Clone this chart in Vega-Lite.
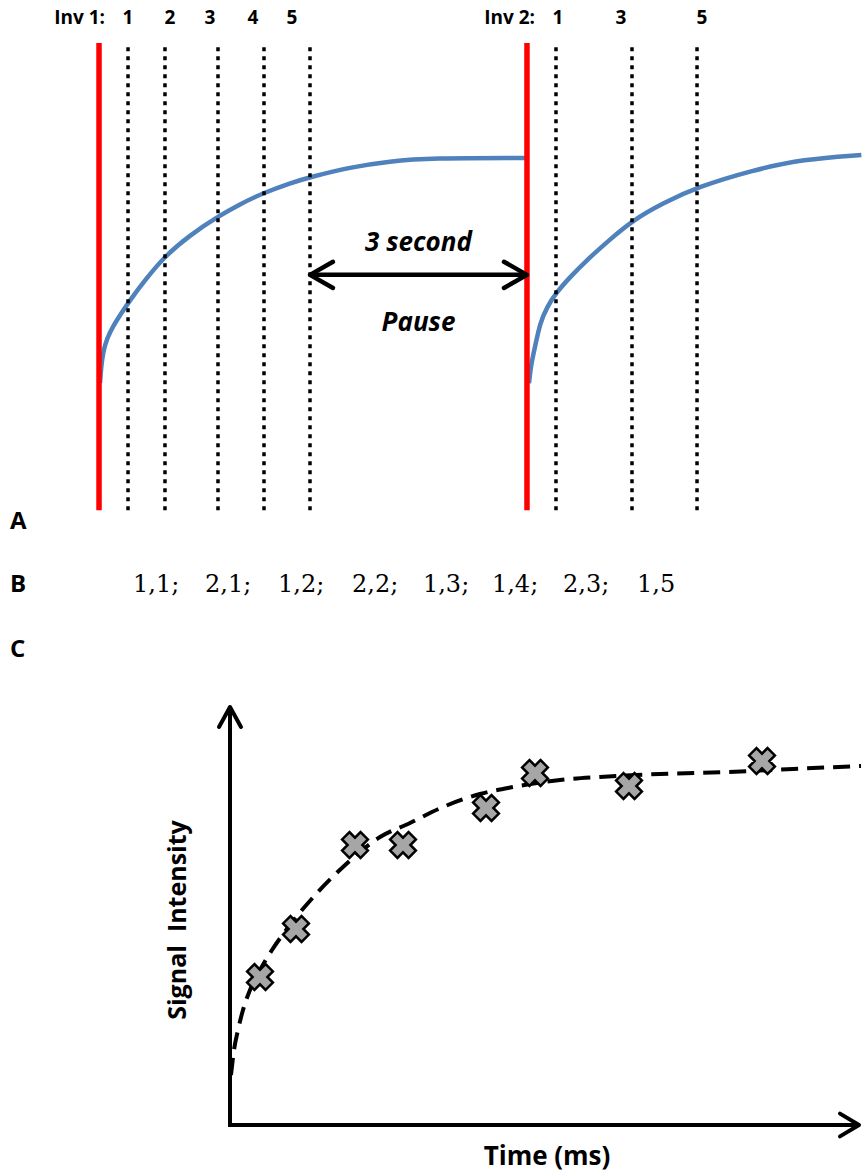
{
  "$schema": "https://vega.github.io/schema/vega-lite/v6.json",
  "padding": 0,
  "spacing": 0,
  "bounds": "flush",
  "background": "white",
  "config": {"view": {"stroke": null}, "font": "Open Sans"},
  "datasets": {
    "inversions": [
      {"inversion": "Inv 1", "t": 0},
      {"inversion": "Inv 2", "t": 5.917}
    ],
    "readouts": [
      {"inversion": 1, "readout": 1, "t": 0.401},
      {"inversion": 1, "readout": 2, "t": 0.912},
      {"inversion": 1, "readout": 3, "t": 1.645},
      {"inversion": 1, "readout": 4, "t": 2.281},
      {"inversion": 1, "readout": 5, "t": 2.917},
      {"inversion": 2, "readout": 1, "t": 6.318},
      {"inversion": 2, "readout": 3, "t": 7.369},
      {"inversion": 2, "readout": 5, "t": 8.268}
    ],
    "inversionLabels": [
      {"label": "Inv 1:", "t": 0.083},
      {"label": "Inv 2:", "t": 6.028}
    ],
    "readoutLabels": [
      {"label": "1", "t": 0.401},
      {"label": "2", "t": 0.982},
      {"label": "3", "t": 1.535},
      {"label": "4", "t": 2.129},
      {"label": "5", "t": 2.668},
      {"label": "1", "t": 6.346},
      {"label": "3", "t": 7.217},
      {"label": "5", "t": 8.337}
    ],
    "recovery": [
      {"inversion": 1, "t": 0.014, "signal": -0.014},
      {"inversion": 1, "t": 0.028, "signal": 0.054},
      {"inversion": 1, "t": 0.055, "signal": 0.126},
      {"inversion": 1, "t": 0.111, "signal": 0.189},
      {"inversion": 1, "t": 0.194, "signal": 0.243},
      {"inversion": 1, "t": 0.318, "signal": 0.306},
      {"inversion": 1, "t": 0.429, "signal": 0.36},
      {"inversion": 1, "t": 0.636, "signal": 0.45},
      {"inversion": 1, "t": 0.912, "signal": 0.559},
      {"inversion": 1, "t": 1.258, "signal": 0.653},
      {"inversion": 1, "t": 1.631, "signal": 0.734},
      {"inversion": 1, "t": 1.949, "signal": 0.793},
      {"inversion": 1, "t": 2.267, "signal": 0.842},
      {"inversion": 1, "t": 2.641, "signal": 0.887},
      {"inversion": 1, "t": 2.917, "signal": 0.914},
      {"inversion": 1, "t": 3.47, "signal": 0.959},
      {"inversion": 1, "t": 4.023, "signal": 0.986},
      {"inversion": 1, "t": 4.576, "signal": 1.0},
      {"inversion": 1, "t": 5.917, "signal": 1.0},
      {"inversion": 2, "t": 5.945, "signal": -0.014},
      {"inversion": 2, "t": 5.973, "signal": 0.07},
      {"inversion": 2, "t": 6.028, "signal": 0.149},
      {"inversion": 2, "t": 6.097, "signal": 0.257},
      {"inversion": 2, "t": 6.194, "signal": 0.329},
      {"inversion": 2, "t": 6.318, "signal": 0.392},
      {"inversion": 2, "t": 6.512, "signal": 0.464},
      {"inversion": 2, "t": 6.747, "signal": 0.541},
      {"inversion": 2, "t": 7.023, "signal": 0.622},
      {"inversion": 2, "t": 7.383, "signal": 0.721},
      {"inversion": 2, "t": 7.798, "signal": 0.797},
      {"inversion": 2, "t": 8.268, "signal": 0.869},
      {"inversion": 2, "t": 9.042, "signal": 0.946},
      {"inversion": 2, "t": 9.733, "signal": 0.995},
      {"inversion": 2, "t": 10.54, "signal": 1.014}
    ],
    "pause": [
      {"from": 2.917, "to": 5.917, "label": "3 second", "label2": "Pause"}
    ],
    "panelLetters": [
      {"letter": "A", "s": -0.64},
      {"letter": "B", "s": -0.923},
      {"letter": "C", "s": -1.216}
    ],
    "order": [
      {"pair": "1,1;", "t": 0.47},
      {"pair": "2,1;", "t": 1.466},
      {"pair": "1,2;", "t": 2.475},
      {"pair": "2,2;", "t": 3.498},
      {"pair": "1,3;", "t": 4.479},
      {"pair": "1,4;", "t": 5.433},
      {"pair": "2,3;", "t": 6.415},
      {"pair": "1,5", "t": 7.438}
    ],
    "measurements": [
      {"time": 150, "signal": 37},
      {"time": 330, "signal": 49},
      {"time": 625, "signal": 70},
      {"time": 865, "signal": 70},
      {"time": 1280, "signal": 79.25},
      {"time": 1525, "signal": 88},
      {"time": 1995, "signal": 84.75},
      {"time": 2660, "signal": 91}
    ],
    "fit": [
      {"time": 5, "signal": 12.5},
      {"time": 20, "signal": 18.75},
      {"time": 40, "signal": 23.75},
      {"time": 65, "signal": 28.75},
      {"time": 100, "signal": 33.75},
      {"time": 150, "signal": 38.75},
      {"time": 210, "signal": 43.75},
      {"time": 300, "signal": 50},
      {"time": 435, "signal": 58},
      {"time": 565, "signal": 64.5},
      {"time": 750, "signal": 72},
      {"time": 900, "signal": 75.5},
      {"time": 1065, "signal": 79.5},
      {"time": 1250, "signal": 82.75},
      {"time": 1415, "signal": 84.5},
      {"time": 1650, "signal": 86.25},
      {"time": 1850, "signal": 87},
      {"time": 2150, "signal": 87.75},
      {"time": 2485, "signal": 88.25},
      {"time": 2815, "signal": 89},
      {"time": 3155, "signal": 89.75}
    ]
  },
  "vconcat": [
    {
      "width": 862,
      "height": 702,
      "layer": [
        {
          "data": {"name": "recovery"},
          "mark": {"type": "line", "color": "#4f81bd", "strokeWidth": 4.5, "interpolate": "basis"},
          "encoding": {
            "x": {"field": "t", "type": "quantitative", "scale": {"domain": [-1.369, 10.549], "nice": false, "zero": false}, "axis": null},
            "y": {"field": "signal", "type": "quantitative", "scale": {"domain": [-1.45, 1.712], "nice": false, "zero": false}, "axis": null},
            "detail": {"field": "inversion"}
          }
        },
        {
          "data": {"name": "inversions"},
          "mark": {"type": "rule", "color": "#ff0000", "strokeWidth": 5.5},
          "encoding": {
            "x": {"field": "t", "type": "quantitative"},
            "y": {"datum": -0.586, "type": "quantitative"},
            "y2": {"datum": 1.518}
          }
        },
        {
          "data": {"name": "readouts"},
          "mark": {"type": "rule", "color": "black", "strokeWidth": 3.5, "strokeDash": [4, 5]},
          "encoding": {
            "x": {"field": "t", "type": "quantitative"},
            "y": {"datum": -0.586, "type": "quantitative"},
            "y2": {"datum": 1.518}
          }
        },
        {
          "data": {"name": "pause"},
          "mark": {"type": "rule", "color": "black", "strokeWidth": 4.5},
          "encoding": {
            "x": {"field": "from", "type": "quantitative"},
            "x2": {"field": "to"},
            "y": {"datum": 0.474, "type": "quantitative"}
          }
        },
        {
          "data": {"name": "pause"},
          "mark": {"type": "point", "shape": "M1,-0.57L0,0L1,0.57", "size": 2116, "filled": false, "stroke": "black", "strokeWidth": 4.5, "strokeCap": "round", "strokeJoin": "round", "opacity": 1},
          "encoding": {
            "x": {"field": "from", "type": "quantitative"},
            "y": {"datum": 0.474, "type": "quantitative"}
          }
        },
        {
          "data": {"name": "pause"},
          "mark": {"type": "point", "shape": "M-1,-0.57L0,0L-1,0.57", "size": 2116, "filled": false, "stroke": "black", "strokeWidth": 4.5, "strokeCap": "round", "strokeJoin": "round", "opacity": 1},
          "encoding": {
            "x": {"field": "to", "type": "quantitative"},
            "y": {"datum": 0.474, "type": "quantitative"}
          }
        },
        {
          "data": {"name": "pause"},
          "transform": [{"calculate": "(datum.from + datum.to) / 2", "as": "mid"}],
          "mark": {"type": "text", "fontSize": 26, "fontWeight": "bold", "fontStyle": "italic", "align": "center", "baseline": "middle", "color": "black"},
          "encoding": {
            "x": {"field": "mid", "type": "quantitative"},
            "y": {"datum": 0.617, "type": "quantitative"},
            "text": {"field": "label"}
          }
        },
        {
          "data": {"name": "pause"},
          "transform": [{"calculate": "(datum.from + datum.to) / 2", "as": "mid"}],
          "mark": {"type": "text", "fontSize": 26, "fontWeight": "bold", "fontStyle": "italic", "align": "center", "baseline": "middle", "color": "black"},
          "encoding": {
            "x": {"field": "mid", "type": "quantitative"},
            "y": {"datum": 0.257, "type": "quantitative"},
            "text": {"field": "label2"}
          }
        },
        {
          "data": {"name": "inversionLabels"},
          "mark": {"type": "text", "fontSize": 19, "fontWeight": "bold", "align": "right", "baseline": "middle", "color": "black"},
          "encoding": {
            "x": {"field": "t", "type": "quantitative"},
            "y": {"datum": 1.631, "type": "quantitative"},
            "text": {"field": "label"}
          }
        },
        {
          "data": {"name": "readoutLabels"},
          "mark": {"type": "text", "fontSize": 19, "fontWeight": "bold", "align": "center", "baseline": "middle", "color": "black"},
          "encoding": {
            "x": {"field": "t", "type": "quantitative"},
            "y": {"datum": 1.631, "type": "quantitative"},
            "text": {"field": "label"}
          }
        },
        {
          "data": {"name": "panelLetters"},
          "mark": {"type": "text", "fontSize": 24, "fontWeight": "bold", "align": "left", "baseline": "middle", "color": "black"},
          "encoding": {
            "x": {"datum": -1.231, "type": "quantitative"},
            "y": {"field": "s", "type": "quantitative"},
            "text": {"field": "letter"}
          }
        },
        {
          "data": {"name": "order"},
          "mark": {"type": "text", "font": "DejaVu Serif", "fontSize": 24, "align": "left", "baseline": "middle", "color": "black"},
          "encoding": {
            "x": {"field": "t", "type": "quantitative"},
            "y": {"datum": -0.923, "type": "quantitative"},
            "text": {"field": "pair"}
          }
        }
      ]
    },
    {
      "width": 862,
      "height": 471,
      "layer": [
        {
          "data": {"name": "fit"},
          "mark": {"type": "line", "color": "black", "strokeWidth": 4, "strokeDash": [17, 9], "interpolate": "monotone"},
          "encoding": {
            "x": {"field": "time", "type": "quantitative", "scale": {"domain": [-1150, 3160], "nice": false, "zero": false}, "axis": null},
            "y": {"field": "signal", "type": "quantitative", "scale": {"domain": [-12, 105.75], "nice": false, "zero": false}, "axis": null}
          }
        },
        {
          "data": {"values": [{}]},
          "mark": {"type": "rule", "color": "black", "strokeWidth": 4},
          "encoding": {
            "x": {"datum": 0, "type": "quantitative"},
            "y": {"datum": -0.5, "type": "quantitative"},
            "y2": {"datum": 104.5}
          }
        },
        {
          "data": {"values": [{}]},
          "mark": {"type": "rule", "color": "black", "strokeWidth": 4},
          "encoding": {
            "x": {"datum": -2, "type": "quantitative"},
            "x2": {"datum": 3145},
            "y": {"datum": 0, "type": "quantitative"}
          }
        },
        {
          "data": {"values": [{}]},
          "mark": {"type": "point", "shape": "M-0.55,1L0,0L0.55,1", "size": 1600, "filled": false, "stroke": "black", "strokeWidth": 4, "strokeCap": "round", "strokeJoin": "round", "opacity": 1},
          "encoding": {
            "x": {"datum": 0, "type": "quantitative"},
            "y": {"datum": 104.5, "type": "quantitative"}
          }
        },
        {
          "data": {"values": [{}]},
          "mark": {"type": "point", "shape": "M-1,-0.6L0,0L-1,0.6", "size": 1444, "filled": false, "stroke": "black", "strokeWidth": 4, "strokeCap": "round", "strokeJoin": "round", "opacity": 1},
          "encoding": {
            "x": {"datum": 3145, "type": "quantitative"},
            "y": {"datum": 0, "type": "quantitative"}
          }
        },
        {
          "data": {"name": "measurements"},
          "mark": {"type": "point", "shape": "cross", "angle": 45, "size": 680, "filled": true, "fill": "#a6a6a6", "stroke": "black", "strokeWidth": 2.5, "opacity": 1},
          "encoding": {
            "x": {"field": "time", "type": "quantitative"},
            "y": {"field": "signal", "type": "quantitative"}
          }
        },
        {
          "data": {"values": [{"title": "Signal\u00a0 Intensity"}]},
          "mark": {"type": "text", "fontSize": 25, "fontWeight": "bold", "angle": 270, "align": "center", "baseline": "middle", "color": "black"},
          "encoding": {
            "x": {"datum": -260, "type": "quantitative"},
            "y": {"datum": 51.25, "type": "quantitative"},
            "text": {"field": "title"}
          }
        },
        {
          "data": {"values": [{"title": "Time (ms)"}]},
          "mark": {"type": "text", "fontSize": 26, "fontWeight": "bold", "align": "center", "baseline": "middle", "color": "black"},
          "encoding": {
            "x": {"datum": 1585, "type": "quantitative"},
            "y": {"datum": -8, "type": "quantitative"},
            "text": {"field": "title"}
          }
        }
      ]
    }
  ]
}
